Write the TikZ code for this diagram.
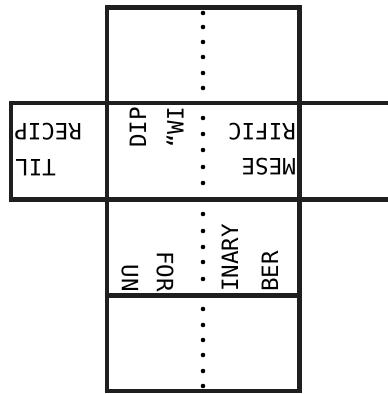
\documentclass[tikz,border=0pt]{standalone}
\usepackage{fontspec}
\setmonofont{DejaVu Sans Mono}
\usepackage{tikz}

\begin{document}
\begin{tikzpicture}[x=1pt, y=1pt,
    facebox/.style={line width=4.8pt, black!88},
    foldlabel/.style={inner sep=0pt, font=\fontsize{22.5}{22.5}\selectfont\ttfamily}]
  \pgfmathsetmacro{\ColL}{11}
  \pgfmathsetmacro{\ColA}{107}
  \pgfmathsetmacro{\ColM}{203}
  \pgfmathsetmacro{\ColB}{299.5}
  \pgfmathsetmacro{\RowT}{386.5}
  \pgfmathsetmacro{\RowA}{291}
  \pgfmathsetmacro{\RowB}{194.5}
  \pgfmathsetmacro{\RowC}{98.5}
  \pgfmathsetmacro{\RowD}{3}
  \useasboundingbox (0,0) rectangle (388,394);

  % dotted fold down the middle column
  \foreach \py in {13,27,42,57,73,88,118,134,150,167,183,214,231,247,262,279,309,325,340,355,371,386}
    \fill (\ColM, 394-\py) circle (2.3pt);

  % faces of the net
  \draw[facebox] (\ColA,\RowT) rectangle (\ColB,\RowA);
  \draw[facebox] (\ColL,\RowA) rectangle (\ColA,\RowB);
  \draw[facebox] (\ColA,\RowA) rectangle (\ColB,\RowB);
  \draw[facebox] (\ColB,\RowA) -- (395,\RowA);
  \draw[facebox] (\ColB,\RowB) -- (395,\RowB);
  \draw[facebox] (\ColA,\RowB) rectangle (\ColB,\RowC);
  \draw[facebox] (\ColA,\RowC) rectangle (\ColB,\RowD);

  % words on the faces
  \node[foldlabel, rotate=180, anchor=east] (recip) at (14, 262.5) {RECIP};
  \node[foldlabel, rotate=180, anchor=east] (til) at (15, 226.5) {TIL};
  \node[foldlabel, rotate=90, anchor=east] (dip) at (138, 287) {DIP};
  \node[foldlabel, rotate=90, anchor=east] (wi) at (175, 287) {“WI};
  \node[foldlabel, rotate=180, anchor=west] (rific) at (296, 262) {RIFIC};
  \node[foldlabel, rotate=180, anchor=west] (mese) at (296, 227) {MESE};
  \node[foldlabel, rotate=-90, anchor=east] (un) at (130, 102) {UN};
  \node[foldlabel, rotate=-90, anchor=east] (for) at (165, 102) {FOR};
  \node[foldlabel, rotate=90, anchor=west] (inary) at (230, 102) {INARY};
  \node[foldlabel, rotate=90, anchor=west] (ber) at (270, 102) {BER};
\end{tikzpicture}
\end{document}
